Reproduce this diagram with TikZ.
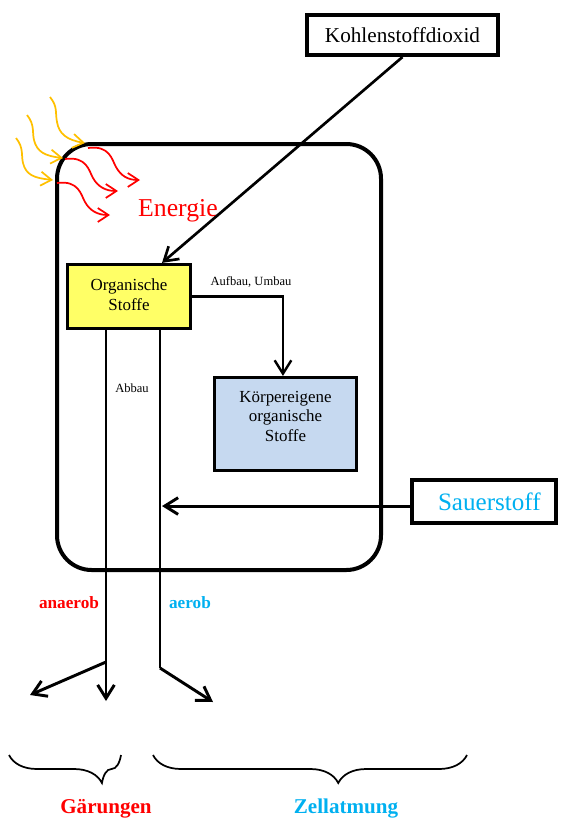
\documentclass[tikz,border=0pt]{standalone}
\usepackage{fontspec}
\setmainfont{Liberation Serif}
\usetikzlibrary{arrows.meta,decorations.pathreplacing}
\definecolor{myred}{RGB}{255,0,0}
\definecolor{mycyan}{RGB}{0,176,240}
\definecolor{myorange}{RGB}{255,192,0}
\definecolor{myyellow}{RGB}{255,255,102}
\definecolor{myblue}{RGB}{198,217,240}
\begin{document}
\begin{tikzpicture}[x=0.75pt,y=-0.75pt,
  box/.style={draw=black, line width=2.4pt, inner sep=0pt, align=center},
  arr/.style={line width=2pt, -{Straight Barb[length=10pt,width=12.5pt]}},
  thinline/.style={line width=1.6pt},
  wave/.style={line width=1.3pt, -{Straight Barb[length=8pt,width=10.5pt]}},
  brace/.style={line width=1.3pt, decorate, decoration={brace, mirror, amplitude=21pt}},
  small/.style={font=\fontsize{9.4}{11}\selectfont},
  mid/.style={font=\fontsize{12.7}{14.8}\selectfont},
  lbl/.style={font=\bfseries\fontsize{12.9}{15}\selectfont},
  big/.style={font=\bfseries\fontsize{15.8}{18}\selectfont}
]
\useasboundingbox (0,0) rectangle (568,821);

% cell
\draw[line width=3pt, rounded corners=26pt] (57,144) rectangle (381,570);

% nodes
\node[box, line width=3pt, minimum width=143.25pt, minimum height=30pt,
      font=\fontsize{15.9}{18}\selectfont] (co2) at (402.5,35) {Kohlenstoffdioxid};
\node[box, fill=myyellow, minimum width=92.25pt, minimum height=48pt, mid] (org) at (129,296.5)
  {\begin{tabular}{@{}c@{}}Organische\\Stoffe\end{tabular}};
\node[box, fill=myblue, minimum width=106.5pt, minimum height=69.75pt, mid] (koerp) at (285.5,424)
  {\raisebox{4.5pt}[\height][\depth]{\begin{tabular}{@{}c@{}}Körpereigene\\organische\\Stoffe\end{tabular}}};
\node[box, line width=2.6pt, minimum width=108pt, minimum height=32.25pt, text=mycyan,
      font=\fontsize{18.8}{21}\selectfont] (sauer) at (484,501.5) {\hspace*{8pt}Sauerstoff};

\node[text=myred, font=\fontsize{19.3}{22}\selectfont] (energie) at (178,211) {Energie};
\node[small] (aufbau) at (251,282) {Aufbau, Umbau};
\node[small] (abbau) at (132,388) {Abbau};
\node[lbl, text=myred] (anaerob) at (69,603) {anaerob};
\node[lbl, text=mycyan] (aerob) at (190,603) {aerob};
\node[big, text=myred] (gaer) at (106,809) {Gärungen};
\node[big, text=mycyan] (zell) at (346,809) {Zellatmung};

% coordinates
\coordinate (bL) at (106,662);
\coordinate (bR) at (160,668);
\coordinate (tL) at (30,695);
\coordinate (tD) at (106,701);
\coordinate (tR) at (213,702);

% connectors
\draw[arr] (co2.south) -- ([xshift=24.75pt]org.north);
\draw[arr, line width=1.8pt] (org.east) -| ([xshift=-1.9pt]koerp.north);
\draw[thinline] (org.south -| bL) -- (bL);
\draw[thinline] (org.south -| bR) -- (bR);
\draw[arr, line width=2.2pt] (bL) -- (tL);
\draw[arr, line width=2.2pt] (bL) -- (tD);
\draw[arr, line width=2.2pt] (bR) -- (tR);
\draw[arr, line width=2.2pt] ([yshift=-3.4pt]sauer.west) -- ([yshift=-3.4pt,xshift=1.5pt]sauer.west -| bR);

% braces
\draw[brace, decoration={aspect=0.83}] (9,755) -- (121,755);
\draw[brace, decoration={aspect=0.59}] (153,755) -- (467,755);

% light rays (orange)
\draw[wave, myorange] (50,97) .. controls (58,107) and (55,112) .. (57,122)
                               .. controls (59,134) and (67,140) .. (85,143);
\draw[wave, myorange] (27,115) .. controls (35,125) and (32,132) .. (34,140)
                               .. controls (37,152) and (45,156) .. (63,158);
\draw[wave, myorange] (16,138) .. controls (24,148) and (21,155) .. (23,163)
                               .. controls (26,175) and (34,178) .. (53,180);
% energy (red)
\draw[wave, myred] (88,148) .. controls (110,145) and (112,160) .. (116,167)
                            .. controls (121,176) and (128,180) .. (140,180);
\draw[wave, myred] (65,159) .. controls (87,156) and (89,171) .. (93,178)
                            .. controls (98,187) and (106,191) .. (118,191);
\draw[wave, myred] (57,183) .. controls (79,180) and (81,195) .. (85,202)
                            .. controls (90,211) and (98,215) .. (110,215);
\end{tikzpicture}
\end{document}
